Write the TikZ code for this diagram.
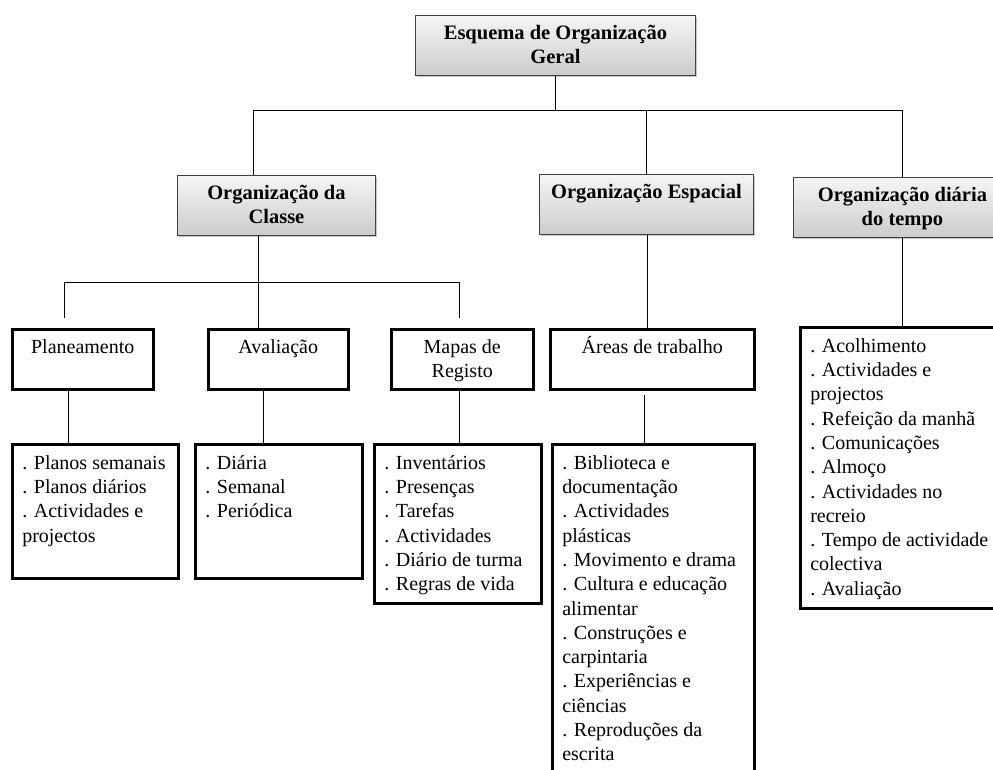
\documentclass[tikz,border=0pt]{standalone}
\usepackage{fontspec}
\setmainfont{Liberation Serif}
\usepackage{tikz}
\usetikzlibrary{shadows}

\newcommand{\boxtext}[4][\raggedright]{\parbox[t][#3][t]{#2}{#1\strut #4}}

\tikzset{
	head/.style={draw=black!75, line width=0.9pt, top color=gray!8, bottom color=gray!40,
		drop shadow={shadow xshift=2pt, shadow yshift=-2pt, opacity=.45},
		anchor=north west, inner xsep=8pt, inner ysep=7pt,
		font=\fontsize{20.5}{24.3}\selectfont\bfseries},
	unit/.style={draw, line width=2.5pt, anchor=north west, inner xsep=9pt, inner ysep=7pt,
		font=\fontsize{20}{24.3}\selectfont},
	items/.style={draw, line width=2.5pt, anchor=north west, inner xsep=10pt, inner ysep=8pt,
		font=\fontsize{20}{24.3}\selectfont},
	link/.style={line width=0.9pt}
}

\begin{document}
\begin{tikzpicture}[x=1pt, y=-1pt]
	
	\useasboundingbox (0,0) rectangle (993,770);
	
	\node[head] (geral) at (415,15)     {\boxtext[\centering]{264pt}{46pt}{Esquema de Organização\\Geral}};
	\node[head] (classe) at (177,175)     {\boxtext[\centering]{182pt}{46pt}{Organização da\\Classe}};
	\node[head] (espacial) at (539,174)     {\boxtext[\centering]{198pt}{46pt}{Organização Espacial}};
	\node[head] (tempo) at (793,177)     {\boxtext[\centering]{202pt}{46pt}{Organização diária\\do tempo}};
	
	\node[unit] (plan) at (11,328)     {\boxtext[\centering]{123pt}{46pt}{Planeamento}};
	\node[unit] (aval) at (207,328)     {\boxtext[\centering]{122pt}{46pt}{Avaliação}};
	\node[unit] (mapas) at (390,328)     {\boxtext[\centering]{124pt}{46pt}{Mapas de\\Registo}};
	\node[unit] (areas) at (549,328)     {\boxtext[\centering]{186pt}{46pt}{Áreas de trabalho}};
	
	\node[items] (planlist) at (11,443)     {\boxtext{146pt}{118pt}{. Planos semanais\\. Planos diários\\. Actividades e\\projectos}};
	\node[items] (avallist) at (194,443)     {\boxtext{147pt}{118pt}{. Diária\\. Semanal\\. Periódica}};
	\node[items] (mapaslist) at (373,443)     {\boxtext{147pt}{143pt}{. Inventários\\. Presenças\\. Tarefas\\. Actividades\\. Diário de turma\\. Regras de vida}};
	\node[items] (areaslist) at (551,443)     {\boxtext{182pt}{341pt}{. Biblioteca e\\documentação\\. Actividades\\plásticas\\. Movimento e drama\\. Cultura e educação\\alimentar\\. Construções e\\carpintaria\\. Experiências e\\ciências\\. Reproduções da\\escrita}};
	\node[items] (tempolist) at (799,326)     {\boxtext{186pt}{265pt}{. Acolhimento\\. Actividades e\\projectos\\. Refeição da manhã\\. Comunicações\\. Almoço\\. Actividades no\\recreio\\. Tempo de actividade\\colectiva\\. Avaliação}};
	
	\coordinate (bus1) at (555,110);
	\coordinate (bus2) at (0,282);
	
	\draw[link] (geral.south) -- (geral.south |- bus1);
	\draw[link] ([xshift=-23pt]classe.north) |- (bus1 -| tempo.north) -- (tempo.north);
	\draw[link] (espacial.north) -- (espacial.north |- bus1);
	
	\draw[link] ([xshift=-18pt]classe.south) -- ([xshift=-18pt]classe.south |- aval.north);
	\draw[link, shorten <=10pt, shorten >=10pt] ([xshift=-18.5pt]plan.north) |- ([xshift=-3pt]mapas.north |- bus2) -- ([xshift=-3pt]mapas.north);
	\draw[link] ([xshift=1pt]espacial.south) -- ([xshift=1pt]espacial.south |- areas.north);
	\draw[link] (tempo.south) -- (tempo.south |- tempolist.north);
	
	\draw[link] ([xshift=-14.5pt]plan.south) -- ([xshift=-14.5pt]plan.south |- planlist.north);
	\draw[link] ([xshift=-15pt]aval.south) -- ([xshift=-15pt]aval.south |- avallist.north);
	\draw[link] ([xshift=-3pt]mapas.south) -- ([xshift=-3pt]mapas.south |- mapaslist.north);
	\draw[link, shorten <=4pt] ([xshift=-8pt]areas.south) -- ([xshift=-8pt]areas.south |- areaslist.north);
	
\end{tikzpicture}
\end{document}
